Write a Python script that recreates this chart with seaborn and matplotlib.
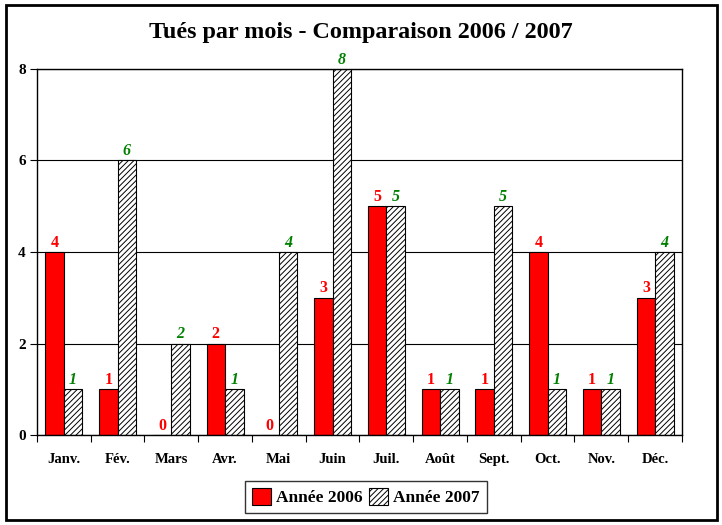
import pandas as pd
import matplotlib.pyplot as plt
import seaborn as sns
from matplotlib.patches import Patch, Rectangle

months = ['Janv.', 'Fév.', 'Mars', 'Avr.', 'Mai', 'Juin', 'Juil.', 'Août',
          'Sept.', 'Oct.', 'Nov.', 'Déc.']
tues_2006 = [4, 1, 0, 2, 0, 3, 5, 1, 1, 4, 1, 3]
tues_2007 = [1, 6, 2, 1, 4, 8, 5, 1, 5, 1, 1, 4]
series = ['Année 2006', 'Année 2007']

df = pd.DataFrame({
    'mois': months * 2,
    'tues': tues_2006 + tues_2007,
    'annee': [series[0]] * len(months) + [series[1]] * len(months),
})

sns.set_theme(style="white")
plt.rcParams['font.family'] = ['Liberation Serif', 'DejaVu Serif']
plt.rcParams['hatch.linewidth'] = 0.7
plt.rcParams['text.color'] = 'black'
plt.rcParams['xtick.color'] = 'black'
plt.rcParams['ytick.color'] = 'black'

fig = plt.figure(figsize=(7.22, 5.25), dpi=100)
ax = fig.add_axes([0.0512, 0.1714, 0.8934, 0.6972])

sns.barplot(data=df, x='mois', y='tues', hue='annee', order=months,
            hue_order=series, palette=['#ff0000', 'white'], saturation=1,
            width=0.69, edgecolor='black', linewidth=0.8, gap=0,
            legend=False, ax=ax)

for bar in ax.containers[1]:
    bar.set_hatch('//////')

ax.bar_label(ax.containers[0], labels=[str(v) for v in tues_2006], padding=1,
             color='#ff0000', fontsize=11.5, fontweight='bold')
ax.bar_label(ax.containers[1], labels=[str(v) for v in tues_2007], padding=1,
             color='#008000', fontsize=11.5, fontweight='bold', fontstyle='italic')

ax.set_ylim(0, 8)
ax.set_xlim(-0.5, len(months) - 0.5)
ax.set_yticks([0, 2, 4, 6, 8])
ax.set_xlabel('')
ax.set_ylabel('')
ax.set_axisbelow(True)
ax.yaxis.grid(True, color='black', linewidth=0.8)
for s in ax.spines.values():
    s.set_color('black')
    s.set_linewidth(1.0)

ax.set_xticks(range(len(months)))
ax.set_xticklabels(months, fontsize=10.5, fontweight='bold')
ax.set_xticks([i - 0.5 for i in range(len(months) + 1)], minor=True)
ax.tick_params(axis='x', which='major', length=0, pad=13)
ax.tick_params(axis='x', which='minor', length=5, width=0.8, color='black', bottom=True)
ax.tick_params(axis='y', length=5, width=0.8, color='black', left=True, labelsize=11, pad=3)
for lbl in ax.get_yticklabels():
    lbl.set_fontweight('bold')

fig.text(0.5, 0.939, 'Tués par mois - Comparaison 2006 / 2007', ha='center', va='center',
         fontsize=17.4, fontweight='bold')

handles = [Patch(facecolor='#ff0000', edgecolor='black', linewidth=0.8),
           Patch(facecolor='white', edgecolor='black', hatch='//////', linewidth=0.8)]
leg = fig.legend(handles, series, loc='center', bbox_to_anchor=(0.507, 0.053), ncol=2,
                 frameon=True, fancybox=False, edgecolor='black', handlelength=1.1,
                 handleheight=1.1, handletextpad=0.3, columnspacing=0.35,
                 borderpad=0.4, prop={'weight': 'bold', 'size': 12.5})
leg.get_frame().set_linewidth(1.0)

fig.patches.append(Rectangle((0.008, 0.01), 0.985, 0.98, transform=fig.transFigure,
                             fill=False, edgecolor='black', linewidth=2))

plt.savefig('out.png', dpi=100)
